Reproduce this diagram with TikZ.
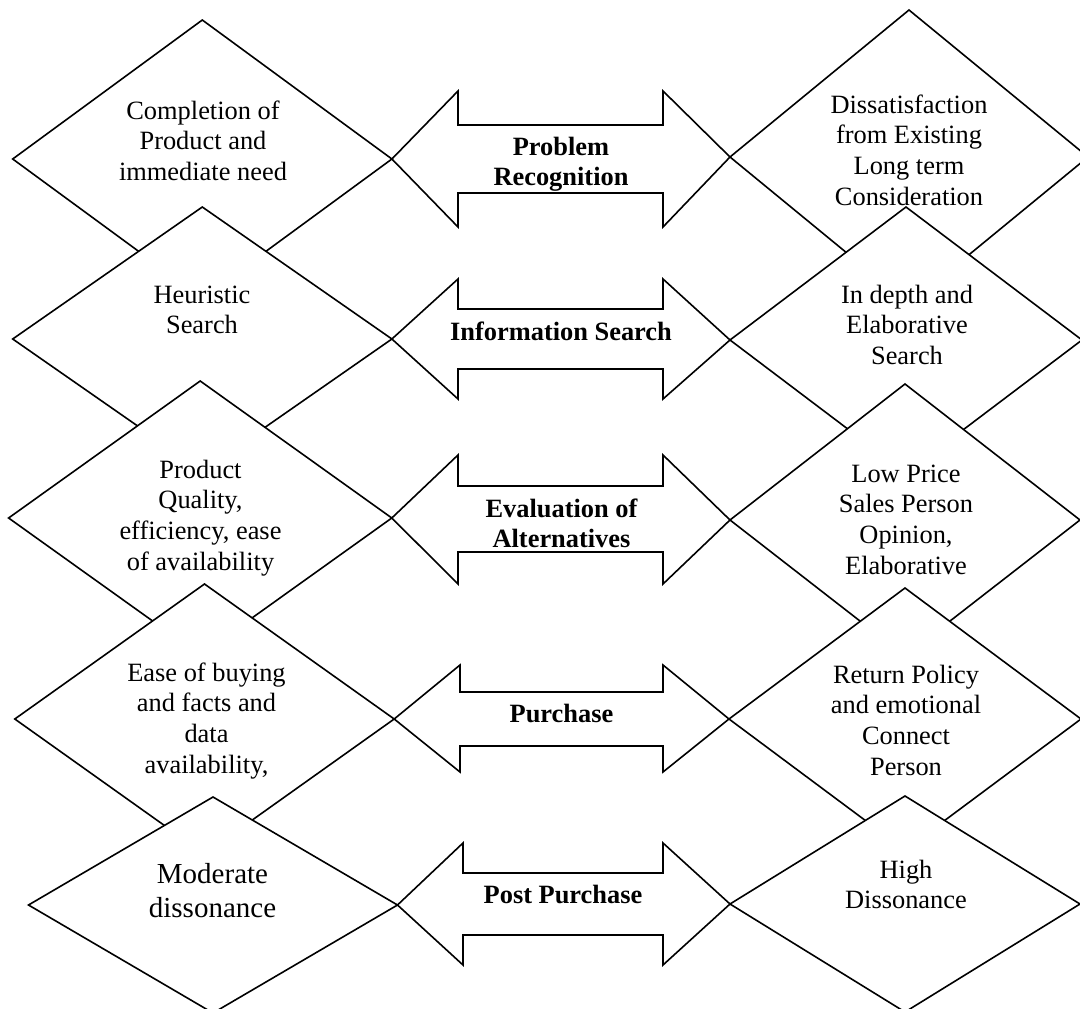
\documentclass[tikz,border=0pt]{standalone}
\usepackage{fontspec}
\setmainfont{Liberation Serif}
\usetikzlibrary{shapes.geometric}
\newcommand{\tst}{\rule{0pt}{22pt}}
\begin{document}
\begin{tikzpicture}[x=1pt,y=-1pt,
  dia/.style={diamond, draw, fill=white, line width=1.6pt, inner sep=0pt, outer sep=0pt},
  blockarrow/.style={draw, line width=1.6pt, line join=miter},
  txt/.style={anchor=north, inner sep=0pt, outer sep=0pt, align=center, font=\fontsize{26.4}{30.8}\selectfont},
  btxt/.style={anchor=north, inner sep=0pt, outer sep=0pt, align=center, font=\fontsize{26.4}{30}\selectfont\bfseries},
  bigtxt/.style={anchor=north, inner sep=0pt, outer sep=0pt, align=center, font=\fontsize{29}{34}\selectfont}
]
\path[use as bounding box] (0,0) rectangle (1080,1009);

% left diamonds
\node[dia, minimum width=379.2pt, minimum height=278pt] (L1) at (202.3,159) {};
\node[dia, minimum width=379.2pt, minimum height=264pt] (L2) at (202.3,339) {};
\node[dia, minimum width=383.2pt, minimum height=274pt] (L3) at (200.2,518) {};
\node[dia, minimum width=379.4pt, minimum height=270pt] (L4) at (204.5,719) {};
\node[dia, minimum width=369pt, minimum height=216pt] (L5) at (213,905) {};

% right diamonds
\node[dia, minimum width=358pt, minimum height=294pt] (R1) at (909,157) {};
\node[dia, minimum width=352pt, minimum height=266pt] (R2) at (906,340) {};
\node[dia, minimum width=350pt, minimum height=272pt] (R3) at (905,520) {};
\node[dia, minimum width=352pt, minimum height=262pt] (R4) at (905,719) {};
\node[dia, minimum width=350pt, minimum height=216pt] (R5) at (905,904) {};

% double block arrows between the diamonds
\draw[blockarrow] (L1.east) -- (458,91) -- (458,125) -- (663,125) -- (663,91) -- (R1.west)
  -- (663,227) -- (663,193) -- (458,193) -- (458,227) -- cycle;
\draw[blockarrow] (L2.east) -- (458,279) -- (458,309) -- (663,309) -- (663,279) -- (R2.west)
  -- (663,399) -- (663,369) -- (458,369) -- (458,399) -- cycle;
\draw[blockarrow] (L3.east) -- (458,455) -- (458,486) -- (663,486) -- (663,455) -- (R3.west)
  -- (663,584) -- (663,552) -- (458,552) -- (458,584) -- cycle;
\draw[blockarrow] (L4.east) -- (460,665) -- (460,692) -- (663,692) -- (663,665) -- (R4.west)
  -- (663,772) -- (663,746) -- (460,746) -- (460,772) -- cycle;
\draw[blockarrow] (L5.east) -- (463,843) -- (463,873) -- (663,873) -- (663,843) -- (R5.west)
  -- (663,965) -- (663,935) -- (463,935) -- (463,965) -- cycle;

% texts in the left diamonds
\node[txt] (tL1) at (203,97) {\tst Completion of\\Product and\\immediate need};
\node[txt] (tL2) at (202,281) {\tst Heuristic\\Search};
\node[txt] (tL3) at (200.5,456) {\tst Product\\Quality,\\efficiency, ease\\of availability};
\node[txt] (tL4) at (206.5,659) {\tst Ease of buying\\and facts and\\data\\availability,};
\node[bigtxt] (tL5) at (212.5,861) {\tst Moderate\\dissonance};

% texts in the right diamonds
\node[txt] (tR1) at (909,91) {\tst Dissatisfaction\\from Existing\\Long term\\Consideration};
\node[txt] (tR2) at (907,281) {\tst In depth and\\Elaborative\\Search};
\node[txt] (tR3) at (906,460) {\tst Low Price\\Sales Person\\Opinion,\\Elaborative};
\node[txt] (tR4) at (906,661) {\tst Return Policy\\and emotional\\Connect\\Person};
\node[txt] (tR5) at (906,856) {\tst High\\Dissonance};

% arrow labels
\node[btxt] (a1) at (561,133) {\tst Problem\\Recognition};
\node[btxt] (a2) at (561,318) {\tst Information Search};
\node[btxt] (a3) at (561.5,495) {\tst Evaluation of\\Alternatives};
\node[btxt] (a4) at (561.5,700) {\tst Purchase};
\node[btxt] (a5) at (563,881) {\tst Post Purchase};
\end{tikzpicture}
\end{document}
